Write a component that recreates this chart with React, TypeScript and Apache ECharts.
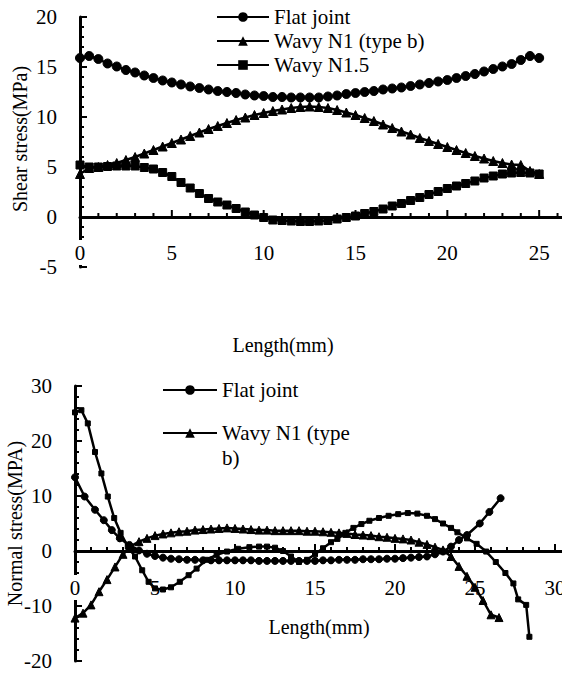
import React, { useEffect, useRef } from 'react';
import * as echarts from 'echarts';

// ---------- Top chart: shear stress ----------
const topLength = [0, 0.5, 1, 1.5, 2, 2.5, 3, 3.5, 4, 4.5, 5, 5.5, 6, 6.5, 7, 7.5, 8, 8.5, 9, 9.5, 10, 10.5, 11, 11.5, 12, 12.5, 13, 13.5, 14, 14.5, 15, 15.5, 16, 16.5, 17, 17.5, 18, 18.5, 19, 19.5, 20, 20.5, 21, 21.5, 22, 22.5, 23, 23.5, 24, 24.5, 25];
const topFlat = [15.9, 16.1, 15.8, 15.35, 15.05, 14.7, 14.45, 14.15, 13.9, 13.65, 13.45, 13.25, 13.05, 12.9, 12.75, 12.6, 12.5, 12.4, 12.25, 12.15, 12.1, 12.0, 12.0, 11.95, 11.95, 11.95, 11.95, 12.05, 12.15, 12.3, 12.4, 12.5, 12.6, 12.75, 12.85, 12.95, 13.1, 13.25, 13.4, 13.55, 13.7, 13.9, 14.1, 14.3, 14.55, 14.8, 15.05, 15.3, 15.7, 16.1, 15.9];
const topWavyN1 = [4.3, 4.9, 5.0, 5.2, 5.4, 5.7, 6.0, 6.35, 6.7, 7.05, 7.4, 7.75, 8.1, 8.45, 8.8, 9.1, 9.4, 9.7, 9.95, 10.2, 10.4, 10.6, 10.75, 10.9, 11.0, 11.05, 11.0, 10.9, 10.7, 10.45, 10.2, 9.9, 9.6, 9.25, 8.9, 8.55, 8.25, 7.9, 7.6, 7.3, 7.0, 6.7, 6.4, 6.1, 5.85, 5.6, 5.4, 5.25, 5.2, 4.6, 4.3];
const topWavyN15 = [5.2, 5.0, 5.0, 5.05, 5.1, 5.1, 5.1, 4.95, 4.8, 4.45, 4.05, 3.45, 2.9, 2.35, 1.85, 1.5, 1.2, 0.85, 0.5, 0.2, -0.05, -0.3, -0.35, -0.4, -0.45, -0.45, -0.4, -0.35, -0.2, -0.05, 0.1, 0.35, 0.55, 0.8, 1.1, 1.35, 1.65, 1.95, 2.25, 2.55, 2.85, 3.1, 3.35, 3.6, 3.9, 4.1, 4.3, 4.4, 4.45, 4.4, 4.3];

// ---------- Bottom chart: normal stress ----------
const botFlatX = [0, 0.6, 1.25, 1.8, 2.3, 2.8, 3.4, 4, 4.5, 5, 5.5, 6, 6.5, 7, 7.5, 8, 8.5, 9, 9.5, 10, 10.5, 11, 11.5, 12, 12.5, 13, 13.5, 14, 14.5, 15, 15.5, 16, 16.5, 17, 17.5, 18, 18.5, 19, 19.5, 20, 20.5, 21, 21.5, 22, 22.5, 23, 23.5, 24, 24.5, 25.3, 25.9, 26.6];
const botFlatY = [13.4, 9.9, 7.5, 5.6, 3.8, 2.3, 1.1, 0.1, -0.5, -0.9, -1.2, -1.4, -1.5, -1.6, -1.6, -1.7, -1.7, -1.7, -1.7, -1.7, -1.7, -1.7, -1.8, -1.8, -1.8, -1.8, -1.8, -1.8, -1.8, -1.8, -1.7, -1.7, -1.6, -1.6, -1.6, -1.5, -1.5, -1.5, -1.4, -1.4, -1.3, -1.2, -1.1, -1.0, -0.6, -0.1, 0.8, 2.0, 2.9, 5.0, 7.1, 9.6];
const botWavyX = [0, 0.5, 1, 1.5, 2, 2.5, 3, 3.5, 4, 4.5, 5, 5.5, 6, 6.5, 7, 7.5, 8, 8.5, 9, 9.5, 10, 10.5, 11, 11.5, 12, 12.5, 13, 13.5, 14, 14.5, 15, 15.5, 16, 16.5, 17, 17.5, 18, 18.5, 19, 19.5, 20, 20.5, 21, 21.5, 22, 22.5, 23, 23.5, 24, 24.5, 25, 25.5, 26, 26.5];
const botWavyY = [-12.2, -11.3, -9.8, -7.4, -5.2, -2.9, -0.6, 0.9, 1.7, 2.3, 2.8, 3.1, 3.3, 3.5, 3.6, 3.8, 3.9, 4.0, 4.1, 4.2, 4.1, 4.0, 3.9, 3.8, 3.8, 3.7, 3.7, 3.7, 3.7, 3.6, 3.6, 3.5, 3.4, 3.3, 3.2, 3.0, 2.9, 2.8, 2.6, 2.5, 2.3, 2.2, 2.0, 1.6, 1.2, 0.7, 0.2, -1.0, -2.8, -4.6, -6.6, -9.0, -11.6, -12.1];
const botSquareX = [0, 0.4, 0.8, 1.25, 1.65, 2.05, 2.45, 2.85, 3.3, 3.75, 4.2, 4.6, 5.0, 5.5, 6.0, 6.55, 7.1, 7.6, 8.2, 8.85, 9.5, 10.2, 10.9, 11.5, 12.0, 12.5, 13.0, 13.5, 14.0, 14.5, 15.0, 15.5, 16.0, 16.4, 16.9, 17.4, 17.9, 18.4, 19.0, 19.6, 20.2, 20.8, 21.4, 22.0, 22.5, 23.0, 23.5, 23.9, 24.5, 25.1, 25.7, 26.3, 26.9, 27.4, 27.7, 28.2, 28.4];
const botSquareY = [25.2, 25.6, 23.2, 18.0, 14.1, 9.9, 6.0, 3.3, 0.8, -1.0, -3.5, -5.6, -6.8, -7.0, -6.6, -5.6, -4.4, -3.2, -1.6, -0.7, -0.1, 0.4, 0.7, 0.8, 0.8, 0.6, 0.0, -1.0, -2.0, -1.6, -0.6, 0.5, 1.6, 2.2, 3.3, 4.2, 4.9, 5.5, 6.0, 6.4, 6.7, 6.9, 6.8, 6.4, 5.8, 5.0, 4.2, 3.4, 2.3, 1.3, -0.1, -2.0, -4.0, -5.9, -8.8, -9.8, -15.6];

// ---------- Axis tick positions (major ticks are every 5 / 10 units) ----------
const topXTicks = [0, 1, 2, 3, 4, 5, 6, 7, 8, 9, 10, 11, 12, 13, 14, 15, 16, 17, 18, 19, 20, 21, 22, 23, 24, 25, 26, 27, 28, 29, 30];
const topYTicks = [-5, -4, -3, -2, -1, 0, 1, 2, 3, 4, 5, 6, 7, 8, 9, 10, 11, 12, 13, 14, 15, 16, 17, 18, 19, 20];
const botXTicks = [0, 1, 2, 3, 4, 5, 6, 7, 8, 9, 10, 11, 12, 13, 14, 15, 16, 17, 18, 19, 20, 21, 22, 23, 24, 25, 26, 27, 28, 29, 30, 31, 32, 33, 34, 35];
const botYTicks = [-20, -18, -16, -14, -12, -10, -8, -6, -4, -2, 0, 2, 4, 6, 8, 10, 12, 14, 16, 18, 20, 22, 24, 26, 28, 30];
// Last tick label each x axis shows
const topXLastLabel = 25;
const botXLastLabel = 30;

const FONT = 'Liberation Serif';
const BLACK = '#000';

const zip = (xs: number[], ys: number[]) => xs.map((x, i) => [x, ys[i]]);

function makeXAxis(gridIndex: number, min: number, max: number, offset: number, margin: number, name: string, nameGap: number, padRight: number, lastLabel: number) {
  return {
    type: 'value', gridIndex, min, max, interval: 5, z: 1,
    position: 'bottom', offset,
    axisLine: { show: true, onZero: false, lineStyle: { color: BLACK, width: 3 } },
    axisTick: { show: false },
    minorTick: { show: false },
    splitLine: { show: false },
    axisLabel: {
      show: true, margin, color: BLACK, fontSize: 21, fontFamily: FONT, backgroundColor: '#fff', padding: [2, 2],
      formatter: (v: number) => (v <= lastLabel ? String(v) : ''),
    },
    name, nameLocation: 'middle', nameGap, nameMoveOverlap: false,
    nameTextStyle: { color: BLACK, fontSize: 20, fontFamily: FONT, padding: [0, padRight, 0, 0] },
  };
}

function makeYAxis(gridIndex: number, min: number, max: number, interval: number, name: string, nameGap: number, padLeft: number) {
  return {
    type: 'value', gridIndex, min, max, interval, z: 0,
    position: 'left',
    axisLine: { show: true, onZero: false, lineStyle: { color: BLACK, width: 3 } },
    axisTick: { show: false },
    minorTick: { show: false },
    splitLine: { show: false },
    axisLabel: { show: true, margin: 23, color: BLACK, fontSize: 21, fontFamily: FONT },
    name, nameLocation: 'middle', nameGap, nameMoveOverlap: false,
    nameTextStyle: { color: BLACK, fontSize: 20, fontFamily: FONT, padding: [0, 0, 0, padLeft] },
  };
}

function lineSeries(name: string, data: number[][], symbol: string, symbolSize: number, axisIndex: number) {
  return {
    type: 'line', name, data, symbol, symbolSize,
    xAxisIndex: axisIndex, yAxisIndex: axisIndex,
    showSymbol: true, showAllSymbol: true, z: 3,
    lineStyle: { color: BLACK, width: 2.5 },
    itemStyle: { color: BLACK, borderColor: BLACK },
    emphasis: { disabled: true },
  };
}

// Tick marks drawn through the axes' own scales (api.coord), pointing into the plot.
function tickSeries(id: string, axisIndex: number, values: number[], majorStep: number, dir: 'x' | 'y') {
  return {
    type: 'custom', id, name: id, xAxisIndex: axisIndex, yAxisIndex: axisIndex,
    z: 0.5, silent: true, clip: false, tooltip: { show: false },
    data: values.map((v) => (dir === 'x' ? [v, 0] : [0, v])),
    renderItem: (_params: any, api: any) => {
      const v = dir === 'x' ? api.value(0) : api.value(1);
      const ratio = v / majorStep;
      const major = Math.abs(ratio - Math.round(ratio)) < 1e-9;
      const len = major ? 7 : 4;
      const p = api.coord(dir === 'x' ? [v, 0] : [0, v]);
      const shape = dir === 'x'
        ? { x1: p[0], y1: p[1], x2: p[0], y2: p[1] - len }
        : { x1: p[0], y1: p[1], x2: p[0] + len, y2: p[1] };
      return { type: 'line', shape, style: { stroke: BLACK, lineWidth: 2 } };
    },
  };
}

export default function App() {
  const ref = useRef<HTMLDivElement>(null);
  useEffect(() => {
    if (!ref.current) return;
    const chart = echarts.init(ref.current, null, { renderer: 'svg' });
    const legendText = { color: BLACK, fontSize: 21, fontFamily: FONT, lineHeight: 24 };
    chart.setOption({
      animation: false,
      backgroundColor: '#fff',
      textStyle: { fontFamily: FONT, color: BLACK },
      tooltip: { show: false },
      grid: [
        { left: 80, top: 17, width: 551, height: 250, outerBoundsMode: 'none', containLabel: false },
        { left: 75, top: 386, width: 560, height: 275, outerBoundsMode: 'none', containLabel: false },
      ],
      xAxis: [
        makeXAxis(0, 0, 30, -50, 23, 'Length(mm)', 118, 145, topXLastLabel),
        makeXAxis(1, 0, 35, -110, 24, 'Length(mm)', 66, 72, botXLastLabel),
      ],
      yAxis: [
        makeYAxis(0, -5, 20, 5, 'Shear stress(MPa)', 50, 6),
        makeYAxis(1, -20, 30, 10, 'Normal stress(MPA)', 50, 0),
      ],
      legend: [
        {
          data: ['Flat joint', 'Wavy N1 (type b)', 'Wavy N1.5'], orient: 'vertical',
          left: 216, top: 5, padding: 0, itemGap: 0, itemWidth: 52, itemHeight: 12,
          textStyle: legendText, selectedMode: false,
        },
        {
          data: ['Flat joint'], orient: 'vertical',
          left: 162, top: 378, padding: 0, itemGap: 0, itemWidth: 54, itemHeight: 12,
          textStyle: legendText, selectedMode: false,
        },
        {
          data: ['Wavy N1 (type b)'], orient: 'vertical',
          left: 162, top: 395.5, padding: 0, itemGap: 0, itemWidth: 54, itemHeight: 12,
          formatter: () => '\nWavy N1 (type\nb)',
          textStyle: { ...legendText, lineHeight: 25 }, selectedMode: false,
        },
      ],
      series: [
        tickSeries('ticks-top-x', 0, topXTicks, 5, 'x'),
        tickSeries('ticks-top-y', 0, topYTicks, 5, 'y'),
        tickSeries('ticks-bottom-x', 1, botXTicks, 5, 'x'),
        tickSeries('ticks-bottom-y', 1, botYTicks, 10, 'y'),
        lineSeries('Flat joint', zip(topLength, topFlat), 'circle', 9, 0),
        lineSeries('Wavy N1 (type b)', zip(topLength, topWavyN1), 'triangle', 9, 0),
        lineSeries('Wavy N1.5', zip(topLength, topWavyN15), 'rect', 8, 0),
        lineSeries('Flat joint', zip(botFlatX, botFlatY), 'circle', 7, 1),
        lineSeries('Wavy N1 (type b)', zip(botWavyX, botWavyY), 'triangle', 8, 1),
        lineSeries('Wavy N1.5', zip(botSquareX, botSquareY), 'rect', 5, 1),
      ],
    });
    return () => chart.dispose();
  }, []);
  return (
    <div
      ref={ref}
      style={{ position: 'absolute', left: 0, top: 0, width: 562, height: 673, background: '#fff' }}
    />
  );
}
